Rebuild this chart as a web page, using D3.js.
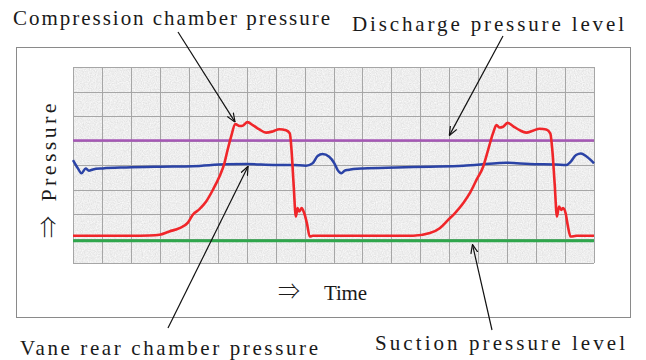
<!DOCTYPE html>
<html>
<head>
<meta charset="utf-8">
<script src="https://cdn.jsdelivr.net/npm/d3@7"></script>
<style>
  html, body { margin: 0; padding: 0; background: #fff; }
  svg { display: block; }
  text { font-family: "Liberation Serif", serif; fill: #1a1a1a; }
  .sym { font-family: "Noto Sans CJK SC", "DejaVu Sans", sans-serif; font-weight: 300; }
</style>
</head>
<body>
<div id="chart"></div>
<script>
// time in grid columns (0..18), pressure in grid rows (0..8)
const redTime = [0, 1, 2, 2.64, 2.99, 3.33, 3.68, 3.97, 4.14, 4.37, 4.6, 4.83, 5.06, 5.23, 5.34, 5.46, 5.61, 5.75, 5.86, 6.03, 6.21, 6.44, 6.67, 6.9, 7.13, 7.36, 7.49, 7.55, 7.62, 7.7, 7.76, 7.82, 7.9, 7.99, 8.08, 8.18, 8.28, 9, 10, 11, 11.75, 12.33, 12.67, 12.96, 13.19, 13.48, 13.71, 13.94, 14.17, 14.34, 14.51, 14.63, 14.74, 14.86, 15.01, 15.2, 15.43, 15.66, 15.89, 16.12, 16.35, 16.49, 16.56, 16.64, 16.72, 16.79, 16.87, 16.93, 17.02, 17.1, 17.19, 17.4, 18];
const redPress = [1.11, 1.11, 1.11, 1.12, 1.15, 1.29, 1.42, 1.65, 1.97, 2.2, 2.51, 2.98, 3.53, 4.07, 4.61, 5.15, 5.67, 5.59, 5.6, 5.75, 5.63, 5.45, 5.32, 5.37, 5.46, 5.42, 5.29, 4.61, 3.25, 1.9, 2.24, 2.1, 2.24, 2.03, 1.63, 1.08, 1.11, 1.11, 1.11, 1.11, 1.11, 1.22, 1.42, 1.76, 2.03, 2.44, 2.85, 3.39, 3.93, 4.61, 5.29, 5.63, 5.53, 5.56, 5.72, 5.59, 5.42, 5.32, 5.4, 5.48, 5.45, 5.29, 4.61, 3.25, 1.9, 2.3, 2.17, 2.24, 2.03, 1.49, 1.08, 1.11, 1.11];

const blueTime = [0, 0.17, 0.29, 0.44, 0.55, 0.69, 1.03, 1.84, 2.99, 4.14, 5.29, 5.98, 7.01, 7.59, 8.05, 8.28, 8.45, 8.62, 8.85, 9.03, 9.14, 9.27, 9.39, 9.5, 10.02, 11.17, 12.33, 13.48, 14.63, 14.98, 15.78, 16.7, 17.04, 17.2, 17.38, 17.55, 17.72, 17.89, 18];
const bluePress = [4.2, 3.86, 3.66, 3.86, 3.77, 3.82, 3.86, 3.9, 3.93, 3.95, 4.03, 4.04, 4.0, 4.0, 3.97, 4.07, 4.37, 4.45, 4.34, 4.07, 3.8, 3.66, 3.77, 3.8, 3.86, 3.9, 3.93, 3.97, 4.07, 4.09, 4.04, 4.02, 4.0, 4.14, 4.41, 4.47, 4.37, 4.2, 4.07];

const dischargeLevel = 5.0;
const suctionLevel = 0.91;

const xTicks = d3.range(0, 19);
const yTicks = d3.range(0, 9);

const labels = [
  { text: "Compression chamber pressure", x: 13, y: 25, w: 317 },
  { text: "Discharge pressure level", x: 352, y: 31, w: 272 },
  { text: "Vane rear chamber pressure", x: 20, y: 355, w: 298 },
  { text: "Suction pressure level", x: 375, y: 350, w: 250 }
];

const width = 646, height = 360;
const svg = d3.select('#chart').append('svg')
  .attr('width', width)
  .attr('height', height);

const defs = svg.append('defs');

// grainy paper fill for the plot area
const noise = defs.append('filter').attr('id', 'grain')
  .attr('x', 0).attr('y', 0).attr('width', 1).attr('height', 1);
noise.append('feTurbulence')
  .attr('type', 'fractalNoise')
  .attr('baseFrequency', 0.85)
  .attr('numOctaves', 2)
  .attr('seed', 3)
  .attr('result', 'n');
noise.append('feColorMatrix')
  .attr('in', 'n')
  .attr('type', 'matrix')
  .attr('values', '0.3 0 0 0 0.7  0.3 0 0 0 0.7  0.3 0 0 0 0.7  0 0 0 0 1');

defs.append('marker')
  .attr('id', 'arrow')
  .attr('viewBox', '0 0 10 10')
  .attr('refX', 10).attr('refY', 5)
  .attr('markerWidth', 9).attr('markerHeight', 9)
  .attr('markerUnits', 'userSpaceOnUse')
  .attr('orient', 'auto')
  .append('path')
  .attr('d', 'M0,1 L10,5 L0,9')
  .attr('fill', 'none')
  .attr('stroke', '#111')
  .attr('stroke-width', 1.3);

// outer frame
svg.append('rect')
  .attr('x', 16.5).attr('y', 47.5)
  .attr('width', 614).attr('height', 270)
  .attr('fill', '#fff')
  .attr('stroke', '#8a8a8a');

const x = d3.scaleLinear().domain([0, 18]).range([73, 594]);
const y = d3.scaleLinear().domain([0, 8]).range([263, 67]);

svg.append('rect')
  .attr('x', x(0)).attr('y', y(8))
  .attr('width', x(18) - x(0)).attr('height', y(0) - y(8))
  .attr('filter', 'url(#grain)');

const grid = svg.append('g').attr('stroke', '#a6a6a6').attr('stroke-width', 1);
grid.selectAll('line.v').data(xTicks).join('line')
  .attr('class', 'v')
  .attr('x1', d => Math.round(x(d)) + 0.5).attr('x2', d => Math.round(x(d)) + 0.5)
  .attr('y1', y(8)).attr('y2', y(0));
grid.selectAll('line.h').data(yTicks).join('line')
  .attr('class', 'h')
  .attr('x1', x(0)).attr('x2', x(18))
  .attr('y1', d => Math.round(y(d)) + 0.5).attr('y2', d => Math.round(y(d)) + 0.5);

// levels
svg.append('line')
  .attr('x1', x(0)).attr('x2', x(18))
  .attr('y1', y(dischargeLevel)).attr('y2', y(dischargeLevel))
  .attr('stroke', '#a657b6').attr('stroke-width', 2.6);
svg.append('line')
  .attr('x1', x(0)).attr('x2', x(18))
  .attr('y1', y(suctionLevel)).attr('y2', y(suctionLevel))
  .attr('stroke', '#2fa64c').attr('stroke-width', 3);

const line = d3.line().curve(d3.curveMonotoneX);

svg.append('path')
  .attr('d', line(blueTime.map((t, i) => [x(t), y(bluePress[i])])))
  .attr('fill', 'none')
  .attr('stroke', '#2b43a6').attr('stroke-width', 2.5)
  .attr('stroke-linejoin', 'round');

svg.append('path')
  .attr('d', line(redTime.map((t, i) => [x(t), y(redPress[i])])))
  .attr('fill', 'none')
  .attr('stroke', '#f0262a').attr('stroke-width', 2.6)
  .attr('stroke-linejoin', 'round');

// axis captions
svg.append('text')
  .attr('transform', 'translate(56,152.5) rotate(-90)')
  .attr('text-anchor', 'middle')
  .attr('font-size', 22)
  .attr('textLength', 98)
  .attr('lengthAdjust', 'spacing')
  .text('Pressure');
// upward double arrow: the same glyph as the time arrow, turned
svg.append('text')
  .attr('class', 'sym')
  .attr('transform', 'translate(56,238) rotate(-90)')
  .attr('font-size', 22)
  .text('⇒');
svg.append('text')
  .attr('class', 'sym')
  .attr('x', 278).attr('y', 299)
  .attr('font-size', 22)
  .text('⇒');
svg.append('text')
  .attr('x', 324).attr('y', 300)
  .attr('font-size', 21)
  .attr('textLength', 43)
  .attr('lengthAdjust', 'spacing')
  .text('Time');

// callout labels
svg.append('g').selectAll('text').data(labels).join('text')
  .attr('x', d => d.x).attr('y', d => d.y)
  .attr('font-size', 21)
  .attr('textLength', d => d.w)
  .attr('lengthAdjust', 'spacing')
  .text(d => d.text);

// callout arrows, pointing to the curves they name
const callouts = [
  { from: [178, 32], t: 5.6, v: 5.75 },
  { from: [503, 36], t: 13.0, v: dischargeLevel + 0.2 },
  { from: [168, 328], t: 6.05, v: 3.95 },
  { from: [492, 330], t: 13.8, v: suctionLevel - 0.15 }
];
svg.append('g').selectAll('line').data(callouts).join('line')
  .attr('x1', d => d.from[0]).attr('y1', d => d.from[1])
  .attr('x2', d => x(d.t)).attr('y2', d => y(d.v))
  .attr('stroke', '#111').attr('stroke-width', 1.2)
  .attr('marker-end', 'url(#arrow)');
</script>
</body>
</html>
